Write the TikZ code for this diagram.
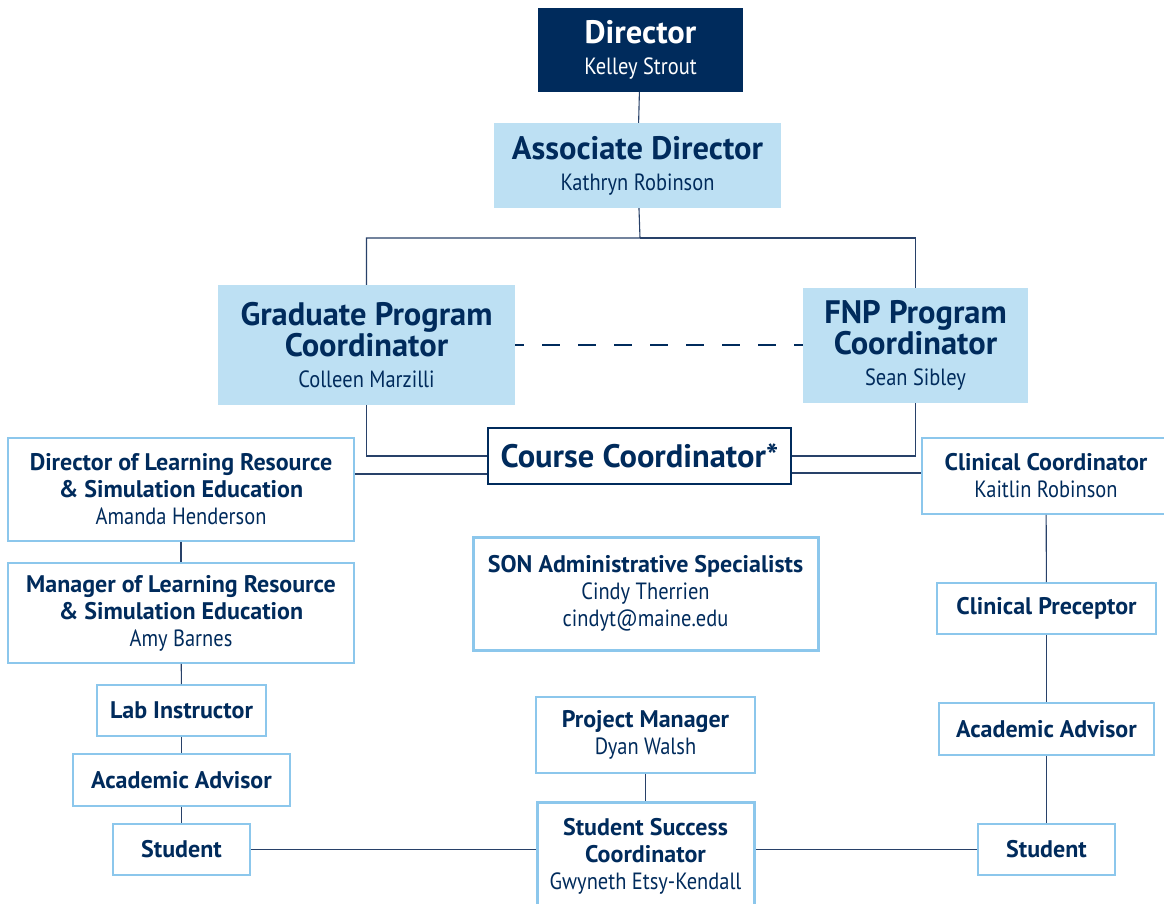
\documentclass[tikz,border=0pt]{standalone}
\usepackage{fontspec}
\setmainfont{PT Sans}
\newfontfamily\namefont{PT Sans}[FakeStretch=0.87]
\definecolor{navy}{RGB}{0,43,92}
\definecolor{paleblue}{RGB}{189,224,243}
\definecolor{edgeblue}{RGB}{140,199,236}
\definecolor{wirecol}{RGB}{40,65,105}
\newcommand{\who}[1]{{\namefont\mdseries\fontsize{23.5}{27}\selectfont #1}}
\tikzset{
  box/.style={draw=edgeblue,line width=1.6pt,fill=white,text=navy,align=center,inner sep=0pt},
  thickbox/.style={box,line width=3pt},
  shaded/.style={fill=paleblue,text=navy,align=center,inner sep=0pt},
  big/.style={font=\bfseries\fontsize{32.5}{30}\selectfont},
  mid/.style={font=\bfseries\fontsize{24}{27}\selectfont},
  wire/.style={draw=wirecol,line width=1.1pt}
}
\begin{document}
\begin{tikzpicture}[x=1pt,y=-1pt]
\useasboundingbox (0,0) rectangle (1164,904);
% top of the chart
\node [shaded,fill=navy,text=white,big,minimum width=205,minimum height=84] (dir) at (640.5,50) {Director\\[1pt]\who{Kelley Strout}};
\node [shaded,big,minimum width=287,minimum height=85] (assoc) at (637.5,165.5) {Associate Director\\[1pt]\who{Kathryn Robinson}};
\node [shaded,big,minimum width=297,minimum height=120] (grad) at (366.5,345) {Graduate Program\\Coordinator\\[1pt]\who{Colleen Marzilli}};
\node [shaded,big,minimum width=225,minimum height=115] (fnp) at (915.5,345.5) {FNP Program\\Coordinator\\[1pt]\who{Sean Sibley}};
\node [box,draw=navy,line width=2pt,big,minimum width=303,minimum height=56] (course) at (639.5,456) {Course Coordinator*};
% left column
\node [box,mid,minimum width=346,minimum height=103] (dlr) at (181,489.5) {Director of Learning Resource\\\& Simulation Education\\\who{Amanda Henderson}};
\node [box,mid,minimum width=346,minimum height=100] (mlr) at (181,613) {Manager of Learning Resource\\\& Simulation Education\\\who{Amy Barnes}};
\node [box,mid,minimum width=169,minimum height=51] (lab) at (181.5,710.5) {Lab Instructor};
\node [box,mid,minimum width=217,minimum height=52] (advL) at (181.5,780) {Academic Advisor};
\node [box,mid,minimum width=137,minimum height=51] (stuL) at (181.5,849.5) {Student};
% middle column
\node [thickbox,mid,minimum width=345,minimum height=113] (son) at (645.5,593.5) {SON Administrative Specialists\\\who{Cindy Therrien}\\\who{cindyt@maine.edu}};
\node [box,mid,minimum width=219,minimum height=76] (pm) at (645.5,735) {Project Manager\\\who{Dyan Walsh}};
\node [thickbox,mid,minimum width=217,minimum height=108] (ssc) at (645.5,856) {Student Success\\Coordinator\\\who{Gwyneth Etsy-Kendall}};
% right column
\node [box,mid,minimum width=248,minimum height=76] (clin) at (1046,476) {Clinical Coordinator\\\who{Kaitlin Robinson}};
\node [box,mid,minimum width=219,minimum height=51] (prec) at (1046.5,608.5) {Clinical Preceptor};
\node [box,mid,minimum width=215,minimum height=52] (advR) at (1046.5,729) {Academic Advisor};
\node [box,mid,minimum width=137,minimum height=51] (stuR) at (1046.5,849.5) {Student};
% connectors
\coordinate (split) at (640,238);
\draw [wire] (dir) -- (assoc);
\draw [wire] (assoc) -- (split) -| (grad);
\draw [wire] (split) -| (fnp);
\draw [draw=navy,line width=1.2pt,dash pattern=on 18pt off 18pt,dash phase=9pt] (grad.east) -- (grad.east -| fnp.west);
\draw [wire] (grad) |- (course.west);
\draw [wire] (fnp) |- (course.east);
\draw [wire] ([yshift=-18pt]course.west) -- ([yshift=-18pt]course.west -| dlr.east);
\draw [wire] ([yshift=-17pt]course.east) -- ([yshift=-17pt]course.east -| clin.west);
\foreach \a/\b in {dlr/mlr,mlr/lab,lab/advL,advL/stuL,pm/ssc,clin/prec,prec/advR,advR/stuR}
  \draw [wire] (\a) -- (\b);
\draw [wire] (stuL.east) -- (stuL.east -| ssc.west);
\draw [wire] (stuR.west) -- (stuR.west -| ssc.east);
\end{tikzpicture}
\end{document}
